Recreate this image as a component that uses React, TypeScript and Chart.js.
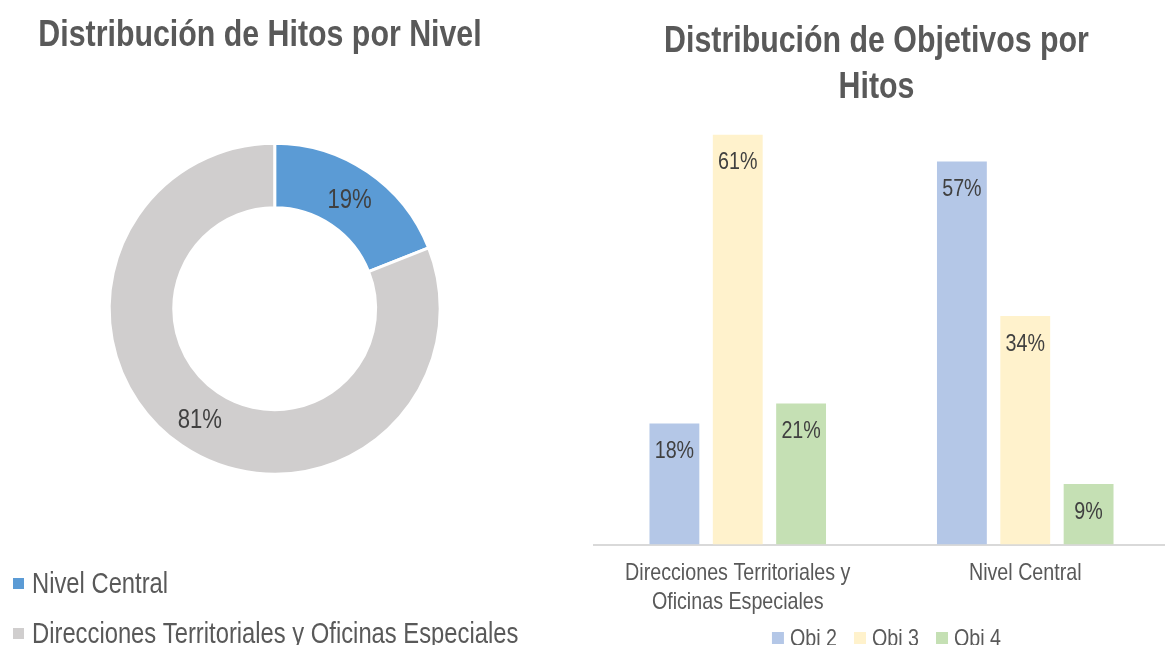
import React, { useEffect, useRef } from "react";
import { Chart, registerables } from "chart.js";

Chart.register(...registerables);

// Arial Narrow is not installed: emulate it with Liberation Sans squeezed horizontally.
const FONT = "'Liberation Sans', Arial, sans-serif";
const NARROW = 0.82;

// ---- Doughnut data ----
const donutTitle = "Distribución de Hitos por Nivel";
const donutLabels = ["Nivel Central", "Direcciones Territoriales y Oficinas Especiales"];
const donutValues = [19, 81];
const donutColors = ["#5B9BD5", "#D0CECE"];

// ---- Bar data ----
const barTitle = ["Distribución de Objetivos por", "Hitos"];
const barCategories = [["Direcciones Territoriales y", "Oficinas Especiales"], ["Nivel Central"]];
const seriesNames = ["Obj 2", "Obj 3", "Obj 4"];
const obj2 = [18, 57];
const obj3 = [61, 34];
const obj4 = [21, 9];
const seriesValues = [obj2, obj3, obj4];
const seriesColors = ["#B4C7E7", "#FFF2CC", "#C5E0B4"];
const yMax = 64;

const TEXT_DARK = "#404040";
const TEXT_GREY = "#595959";

function narrowText(
  ctx: CanvasRenderingContext2D,
  text: string,
  x: number,
  y: number,
  font: string,
  color: string,
  align: CanvasTextAlign = "center",
  baseline: CanvasTextBaseline = "alphabetic"
) {
  ctx.save();
  ctx.font = font;
  ctx.fillStyle = color;
  ctx.textAlign = align;
  ctx.textBaseline = baseline;
  ctx.translate(x, y);
  ctx.scale(NARROW, 1);
  ctx.fillText(text, 0, 0);
  ctx.restore();
}

function narrowWidth(ctx: CanvasRenderingContext2D, text: string, font: string) {
  ctx.save();
  ctx.font = font;
  const w = ctx.measureText(text).width * NARROW;
  ctx.restore();
  return w;
}

export default function App() {
  const leftRef = useRef<HTMLCanvasElement>(null);
  const rightRef = useRef<HTMLCanvasElement>(null);

  useEffect(() => {
    Chart.defaults.font.family = FONT;

    const donutDecor = {
      id: "donutDecor",
      afterDraw(chart: any) {
        const ctx = chart.ctx as CanvasRenderingContext2D;
        // title
        narrowText(ctx, donutTitle, 260, 46, `bold 37px ${FONT}`, TEXT_GREY);
        // slice labels
        const meta = chart.getDatasetMeta(0);
        meta.data.forEach((arc: any, i: number) => {
          const p = arc.tooltipPosition(false);
          narrowText(ctx, `${donutValues[i]}%`, p.x, p.y + 2, `27px ${FONT}`, TEXT_DARK, "center", "middle");
        });
        // legend
        donutLabels.forEach((lab, i) => {
          const base = 593 + i * 50;
          ctx.save();
          ctx.fillStyle = donutColors[i];
          ctx.fillRect(13, base - 15, 11, 11);
          ctx.restore();
          narrowText(ctx, lab, 32, base, `29px ${FONT}`, TEXT_GREY, "left");
        });
      },
    };

    const c1 = new Chart(leftRef.current!, {
      type: "doughnut",
      data: {
        labels: donutLabels,
        datasets: [
          {
            data: donutValues,
            backgroundColor: donutColors,
            borderColor: "#ffffff",
            borderWidth: 3,
            hoverBorderWidth: 3,
          },
        ],
      },
      options: {
        animation: false,
        responsive: false,
        maintainAspectRatio: false,
        cutout: "61%",
        layout: { padding: { left: 107.7, top: 141.7, right: 118.3, bottom: 169.3 } },
        plugins: {
          legend: { display: false },
          title: { display: false },
          tooltip: { enabled: false },
        },
      },
      plugins: [donutDecor],
    });

    const barDecor = {
      id: "barDecor",
      afterDraw(chart: any) {
        const ctx = chart.ctx as CanvasRenderingContext2D;
        // title
        barTitle.forEach((line, i) =>
          narrowText(ctx, line, 286.5, 52 + i * 46, `bold 37px ${FONT}`, TEXT_GREY)
        );
        // value labels (inside end)
        chart.data.datasets.forEach((ds: any, di: number) => {
          const meta = chart.getDatasetMeta(di);
          meta.data.forEach((bar: any, j: number) => {
            narrowText(ctx, `${ds.data[j]}%`, bar.x, bar.y + 28, `24px ${FONT}`, TEXT_DARK, "center", "middle");
          });
        });
        // category labels on the x axis
        const xs = chart.scales.x;
        barCategories.forEach((lines, i) => {
          const px = xs.getPixelForTick(i);
          lines.forEach((line, k) => {
            narrowText(ctx, line, px, 580 + k * 29, `24px ${FONT}`, TEXT_GREY);
          });
        });
        // legend
        const lf = `24px ${FONT}`;
        const widths = seriesNames.map((n) => narrowWidth(ctx, n, lf));
        const total =
          widths.reduce((a, b) => a + b, 0) + seriesNames.length * 18 + (seriesNames.length - 1) * 17;
        let x = 296.5 - total / 2;
        seriesNames.forEach((n, i) => {
          ctx.save();
          ctx.fillStyle = seriesColors[i];
          ctx.fillRect(x, 632, 12, 12);
          ctx.restore();
          narrowText(ctx, n, x + 18, 646, lf, TEXT_GREY, "left");
          x += 18 + widths[i] + 17;
        });
      },
    };

    const c2 = new Chart(rightRef.current!, {
      type: "bar",
      data: {
        labels: barCategories as any,
        datasets: seriesNames.map((name, i) => ({
          label: name,
          data: seriesValues[i],
          backgroundColor: seriesColors[i],
          borderWidth: 0,
          categoryPercentage: 0.661,
          barPercentage: 0.787,
        })),
      },
      options: {
        animation: false,
        responsive: false,
        maintainAspectRatio: false,
        layout: { padding: { left: 4, right: 1, top: 114.5, bottom: 0 } },
        plugins: {
          legend: { display: false },
          title: { display: false },
          tooltip: { enabled: false },
        },
        scales: {
          x: {
            grid: { display: false, drawTicks: false },
            border: { display: true, color: "#D9D9D9", width: 2 },
            ticks: { display: false },
            afterFit(scale: any) {
              scale.height = 100.5;
            },
          },
          y: { display: false, min: 0, max: yMax },
        },
      },
      plugins: [barDecor],
    });

    return () => {
      c1.destroy();
      c2.destroy();
    };
  }, []);

  return (
    <div
      style={{
        position: "fixed",
        left: 0,
        top: 0,
        width: 1165,
        height: 645,
        overflow: "hidden",
        background: "#ffffff",
      }}
    >
      <canvas ref={leftRef} width={560} height={645} style={{ position: "absolute", left: 0, top: 0 }} />
      <canvas ref={rightRef} width={580} height={645} style={{ position: "absolute", left: 590, top: 0 }} />
    </div>
  );
}
